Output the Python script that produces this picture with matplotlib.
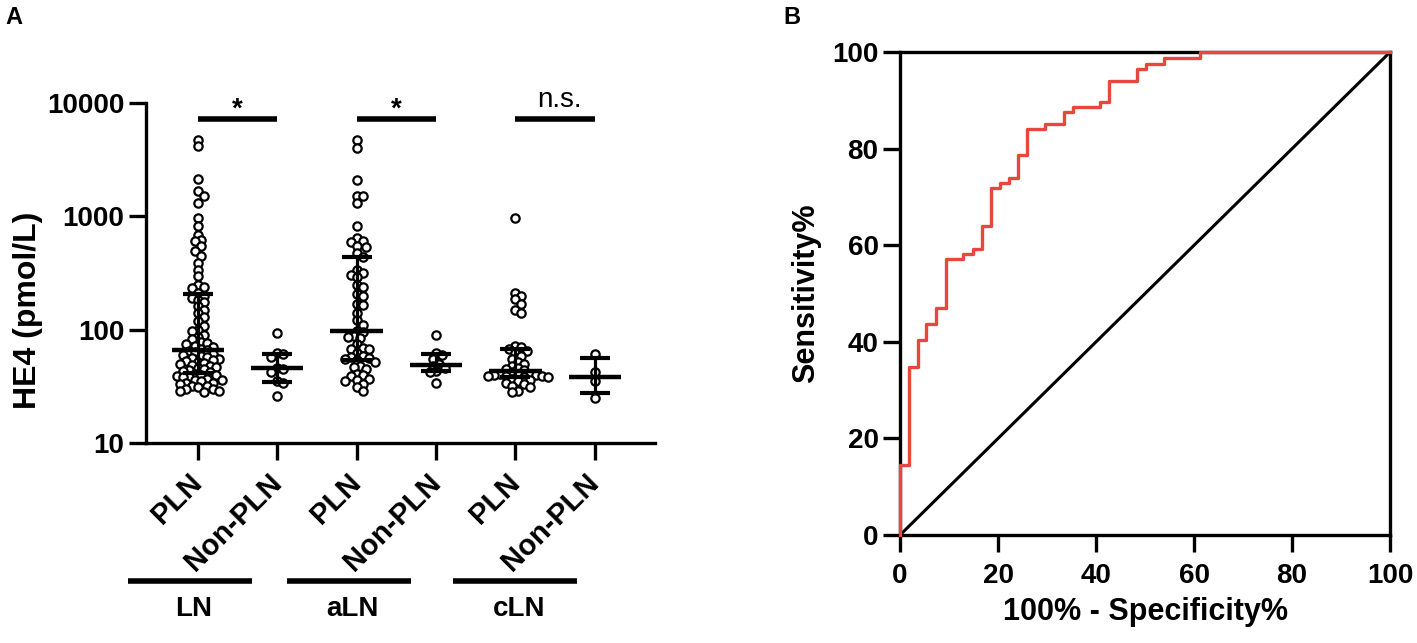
import numpy as np
import matplotlib
matplotlib.use("Agg")
import matplotlib.pyplot as plt

plt.rcParams['font.family'] = ['Liberation Sans', 'DejaVu Sans']
plt.rcParams['font.weight'] = 'bold'

# ---- panel A data: HE4 (pmol/L) per group ----
groups = ["PLN", "Non-PLN", "PLN", "Non-PLN", "PLN", "Non-PLN"]
ln_pln = [4750, 4150, 2110, 1660, 1500, 1320, 968, 817, 689, 614, 600, 543, 490, 443, 388, 338, 296, 249, 240, 231, 209,
          200, 190, 184, 175, 161, 150, 141, 128, 119, 108, 100, 98, 90, 87, 82, 78, 76, 74, 72, 70, 67, 66,
          65, 63, 61, 60, 58, 57, 56, 55, 54, 53, 52, 51, 50, 49, 48, 47, 46, 45, 44, 43, 42,
          41, 40, 40, 39, 38, 38, 37, 36, 36, 35, 34, 34, 33, 32, 32, 31, 30, 30, 29, 29, 28]
ln_non = [93, 62, 61, 57, 46, 45, 42, 35, 34, 26]
aln_pln = [4720, 3990, 2100, 1520, 1500, 1306, 813, 643, 600, 590, 545, 535, 474, 440, 338,
           316, 306, 290, 248, 240, 205, 200, 170, 165, 140, 122, 110, 98, 95, 88,
           86, 84, 75, 69, 68, 67, 62, 58, 57, 56, 55, 54, 52, 48, 47,
           45, 41, 40, 39, 36.5, 36, 35.5, 33, 31, 28.6]
aln_non = [90, 62, 60, 55, 50, 48, 46, 43, 42, 34]
cln_pln = [960, 210, 200, 185, 170, 150, 140, 72, 70, 68, 65, 62, 58, 55, 52, 50, 48, 46, 45, 44,
           42, 41, 41, 40, 40, 40, 39, 39, 39, 38, 38, 37, 36, 35, 34, 33, 32, 31, 29, 28]
cln_non = [61, 42, 35, 25]
series = [ln_pln, ln_non, aln_pln, aln_non, cln_pln, cln_non]
sites = ["LN", "aLN", "cLN"]
sig_labels = ["*", "*", "n.s."]

# ---- panel B data: ROC steps ----
fpr = [0, 1.8, 3.6, 5.3, 7.3, 9.3, 12.9, 14.8, 16.7, 18.6, 20.3, 22.3, 24.1, 25.9,
       29.6, 33.4, 35.2, 40.9, 42.6, 48.3, 50.1, 53.8, 61.3, 100]
tpr = [14.5, 34.8, 40.3, 43.6, 47.0, 57.2, 58.2, 59.3, 64.0, 71.8, 72.9, 74.0, 78.6, 84.1,
       85.2, 87.5, 88.7, 89.7, 94.1, 96.5, 97.6, 98.7, 100, 100]

fig = plt.figure(figsize=(14.17, 6.43), dpi=100)

# ================= panel A =================
ax1 = fig.add_axes([0.103, 0.311, 0.359, 0.529])
ax1.set_yscale('log')
ax1.set_ylim(10, 10000)
ax1.set_xlim(-0.653, 5.754)
for s in ['top', 'right']:
    ax1.spines[s].set_visible(False)
for s in ['left', 'bottom']:
    ax1.spines[s].set_linewidth(2.4)
ax1.set_yticks([10, 100, 1000, 10000])
ax1.set_yticklabels(['10', '100', '1000', '10000'])
ax1.yaxis.set_minor_locator(matplotlib.ticker.NullLocator())
ax1.tick_params(axis='both', width=2.4, length=12, labelsize=20)
ax1.set_xticks(range(len(groups)))
ax1.set_xticklabels(groups, rotation=45, ha='right', va='center', rotation_mode='anchor', fontsize=21)
ax1.tick_params(axis='x', pad=13)
ax1.set_ylabel('HE4 (pmol/L)', fontsize=23, fontweight='bold')
ax1.yaxis.set_label_coords(-0.202, 0.39)

# simple beeswarm in pixel space (points may overlap a little, like Prism)
px_unit = ax1.transData.transform((1, 10))[0] - ax1.transData.transform((0, 10))[0]
dpx = 6.0
for i, vals in enumerate(series):
    v = np.sort(np.array(vals, dtype=float))[::-1]
    ypx = ax1.transData.transform(np.column_stack([np.full(len(v), i), v]))[:, 1]
    placed = []
    offs = []
    for y in ypx:
        best = None
        for k in range(0, 80):
            cands = [0.0] if k == 0 else [k * dpx / 2, -k * dpx / 2]
            for c in cands:
                ok = all((c - px) ** 2 + (y - py) ** 2 >= dpx ** 2 for px, py in placed)
                if ok:
                    best = c
                    break
            if best is not None:
                break
        placed.append((best, y))
        offs.append(best)
    xs = i + np.array(offs) / px_unit
    ax1.plot(xs, v, 'o', ms=6.0, mfc='white', mec='black', mew=1.6, zorder=3, clip_on=False)
    q1, med, q3 = np.percentile(vals, [25, 50, 75], method='weibull')
    ax1.plot([i - 0.33, i + 0.33], [med, med], color='black', lw=3.2, zorder=4, solid_capstyle='butt')
    ax1.plot([i - 0.19, i + 0.19], [q1, q1], color='black', lw=3.0, zorder=4, solid_capstyle='butt')
    ax1.plot([i - 0.19, i + 0.19], [q3, q3], color='black', lw=3.0, zorder=4, solid_capstyle='butt')
    ax1.plot([i, i], [q1, q3], color='black', lw=2.3, zorder=4)

# significance bars
for j, lab in enumerate(sig_labels):
    x0, x1 = 2 * j, 2 * j + 1
    ax1.plot([x0, x1], [7280, 7280], color='black', lw=4, clip_on=False, solid_capstyle='butt')
    if lab == '*':
        ax1.annotate(lab, (x0 + 0.5, 7280), xytext=(0, -3), textcoords='offset points',
                     ha='center', va='bottom', fontsize=20, fontweight='bold')
    else:
        ax1.annotate(lab, (x0 + 0.5, 7280), xytext=(3, 4), textcoords='offset points',
                     ha='center', va='bottom', fontsize=20, fontweight='normal')

# site group lines below the axis
tr = ax1.get_xaxis_transform()
for j, site in enumerate(sites):
    xa = 2 * j - 0.88 + (0.1 if j == 2 else 0)
    xb = xa + 1.56
    ax1.plot([xa, xb], [-0.406, -0.406], transform=tr, color='black', lw=4, clip_on=False,
             solid_capstyle='butt')
    ax1.text((xa + xb) / 2 + 0.05, -0.487, site, transform=tr, ha='center', va='center',
             fontsize=20, fontweight='bold')

# ================= panel B =================
ax2 = fig.add_axes([0.6352, 0.168, 0.3458, 0.751])
ax2.set_xlim(0, 100)
ax2.set_ylim(0, 100)
for s in ax2.spines.values():
    s.set_linewidth(2.4)
ax2.plot([0, 100], [0, 100], color='black', lw=2.2, zorder=2)
ax2.step([0] + fpr, [0] + tpr, where='post', color='#E8473E', lw=2.4, zorder=5, clip_on=False)
ax2.set_xticks(range(0, 101, 20))
ax2.set_yticks(range(0, 101, 20))
ax2.tick_params(axis='both', width=2.4, length=12, labelsize=20)
ax2.tick_params(axis='x', pad=8)
ax2.set_xlabel('100% - Specificity%', fontsize=22, fontweight='bold', labelpad=6)
ax2.set_ylabel('Sensitivity%', fontsize=22, fontweight='bold', labelpad=8)

fig.text(0.004, 0.99, 'A', fontsize=17, fontweight='bold', va='top', ha='left')
fig.text(0.553, 0.99, 'B', fontsize=17, fontweight='bold', va='top', ha='left')

fig.savefig('out.png', dpi=100)
